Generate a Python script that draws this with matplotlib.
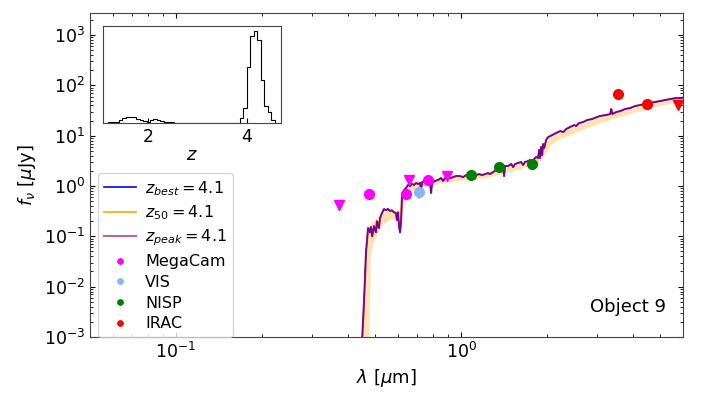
import numpy as np
import matplotlib
matplotlib.use("Agg")
import matplotlib.pyplot as plt
import matplotlib.lines as mlines
from matplotlib.ticker import NullFormatter

# SED model (best fit), wavelength in micron, flux in microJy
sed_wave = [0.440, 0.449, 0.457, 0.464, 0.472, 0.479, 0.483, 0.488, 0.495, 0.503, 0.507,
            0.515, 0.520, 0.528, 0.537, 0.545, 0.554, 0.563, 0.572, 0.582, 0.591, 0.596,
            0.601, 0.606, 0.611, 0.616, 0.621, 0.631, 0.641, 0.652, 0.662, 0.673, 0.684,
            0.695, 0.706, 0.718, 0.724, 0.730, 0.748, 0.766, 0.778, 0.785, 0.791, 0.810,
            0.830, 0.851, 0.865, 0.879, 0.900, 0.915, 0.937, 0.960, 0.992, 1.016, 1.041,
            1.075, 1.102, 1.129, 1.157, 1.185, 1.214, 1.244, 1.264, 1.295, 1.327, 1.348,
            1.370, 1.404, 1.415, 1.426, 1.462, 1.498, 1.522, 1.547, 1.585, 1.624, 1.650,
            1.676, 1.718, 1.746, 1.774, 1.803, 1.832, 1.862, 1.877, 1.892, 1.908, 1.924,
            1.939, 1.955, 1.987, 2.020, 2.087, 2.155, 2.226, 2.281, 2.336, 2.413, 2.493,
            2.533, 2.594, 2.680, 2.768, 2.883, 3.002, 3.075, 3.226, 3.334, 3.360, 3.390,
            3.500, 3.620, 3.760, 3.920, 4.080, 4.250, 4.430, 4.610, 4.800, 5.000, 5.210,
            5.430, 5.660, 5.890, 6.130]
sed_flux = [1e-5, 7e-4, 0.0054, 0.047, 0.146, 0.12, 0.153, 0.10, 0.16, 0.12, 0.20,
            0.146, 0.23, 0.29, 0.35, 0.33, 0.35, 0.32, 0.33, 0.30, 0.29, 0.21,
            0.30, 0.16, 0.12, 0.20, 0.69, 0.83, 0.91, 1.05, 1.0, 1.1, 1.05,
            1.15, 1.1, 1.15, 0.83, 1.2, 1.26, 1.32, 1.2, 0.73, 1.15, 1.26,
            1.32, 1.44, 1.26, 1.44, 1.5, 1.44, 1.5, 1.58, 1.58, 1.5, 1.65,
            1.58, 1.73, 1.65, 1.73, 1.65, 1.73, 1.81, 1.73, 1.90, 2.08, 2.28,
            2.39, 2.62, 1.58, 2.50, 2.50, 2.74, 2.39, 2.74, 2.87, 3.0, 2.62,
            3.0, 3.14, 3.29, 3.0, 3.44, 3.77, 3.60, 5.2, 3.6, 5.96, 4.13,
            6.84, 5.70, 8.2, 9.4, 10.3, 11.3, 12.4, 11.8, 13.6, 14.9, 16.3,
            15.6, 17.9, 18.7, 20.5, 21.5, 23.6, 24.7, 25.8, 27.0, 34.0, 27.0,
            29.6, 31.0, 34.0, 35.5, 39.0, 40.8, 42.8, 44.8, 47.0, 49.0, 51.4,
            53.8, 56.0, 56.0, 58.7]

# z_50 percentile band
band_wave = [0.445, 0.455, 0.465, 0.475, 0.480, 0.49, 0.51, 0.53, 0.56, 0.59, 0.605, 0.62,
             0.64, 0.67, 0.72, 0.8, 0.9, 1.0, 1.1, 1.25, 1.4, 1.6, 1.8, 1.88, 1.95, 2.05,
             2.2, 2.5, 2.8, 3.2, 3.6, 4.0, 4.5, 5.0, 5.5, 6.2]
band_high = [1e-4, 0.004, 0.08, 0.16, 0.18, 0.2, 0.24, 0.3, 0.33, 0.32, 0.33, 0.45,
             0.85, 1.05, 1.15, 1.3, 1.5, 1.6, 1.7, 1.8, 2.3, 2.7, 3.3, 3.8, 6.0, 9.0,
             11.5, 15.5, 19.5, 25, 30, 35, 42, 48, 53, 59]
band_low = [1e-5, 1e-5, 1e-4, 1e-3, 0.04, 0.07, 0.12, 0.17, 0.22, 0.22, 0.22, 0.25,
            0.55, 0.8, 0.95, 1.05, 1.2, 1.3, 1.4, 1.5, 1.8, 2.2, 2.7, 3.0, 4.0, 6.5,
            8.5, 11.5, 15, 19.5, 24, 28.5, 34, 40, 45, 50]

# photometry
mega_wave = [0.475, 0.641, 0.766]
mega_flux = [0.69, 0.69, 1.32]
mega_lim_wave = [0.373, 0.657, 0.893]
mega_lim_flux = [0.42, 1.32, 1.58]
vis_wave = [0.712]
vis_flux = [0.76]
vis_err = [[0.22], [0.05]]
nisp_wave = [1.084, 1.36, 1.77]
nisp_flux = [1.65, 2.4, 2.7]
irac_wave = [3.55, 4.49]
irac_flux = [67.5, 42.7]
irac_lim_wave = [5.76]
irac_lim_flux = [40.0]

# redshift PDF histogram
z_edges = [1.20, 1.27, 1.34, 1.41, 1.48, 1.55, 1.62, 1.69, 1.76, 1.83, 1.90, 1.97, 2.04,
           2.11, 2.18, 2.25, 2.32, 2.39, 2.46, 2.53, 2.60, 2.67, 2.74, 2.81, 2.88, 2.95,
           3.02, 3.09, 3.16, 3.23, 3.30, 3.37, 3.44, 3.51, 3.58, 3.65, 3.72, 3.79, 3.86,
           3.93, 4.00, 4.07, 4.14, 4.21, 4.28, 4.35, 4.42, 4.49, 4.56]
z_counts = [13, 13, 13, 39, 65, 85, 91, 78, 59, 39, 26, 13, 39,
            59, 46, 33, 20, 13, 13, 7, 0, 0, 0, 0, 0, 0,
            0, 0, 0, 0, 0, 0, 0, 0, 0, 0, 0, 0, 65,
            208, 793, 1235, 1300, 1170, 611, 234, 156, 39]

plt.rcParams['font.size'] = 12.5

fig = plt.figure(figsize=(7.03, 3.95), dpi=100)
ax = fig.add_axes([0.128, 0.147, 0.8436, 0.82])

ax.fill_between(band_wave, band_low, band_high, color='orange', alpha=0.32, lw=0)
ax.plot(sed_wave, sed_flux, color='orange', lw=1)
ax.plot(sed_wave, sed_flux, color='blue', lw=0.7)
ax.plot(sed_wave, sed_flux, color='purple', lw=1.5, alpha=0.85)

pm, = ax.plot(mega_wave, mega_flux, 'o', color='magenta', ms=7)
ax.plot(mega_lim_wave, mega_lim_flux, 'v', color='magenta', ms=7)
ax.errorbar(vis_wave, vis_flux, yerr=vis_err, fmt='none', ecolor='#8ab4f2', lw=1.2)
pv, = ax.plot(vis_wave, vis_flux, 'o', color='#8ab4f2', ms=7)
pn, = ax.plot(nisp_wave, nisp_flux, 'o', color='green', ms=7)
pi, = ax.plot(irac_wave, irac_flux, 'o', color='red', ms=7)
ax.plot(irac_lim_wave, irac_lim_flux, 'v', color='red', ms=7)

ax.set_xscale('log')
ax.set_yscale('log')
ax.set_xlim(0.05, 6.0)
ax.set_ylim(1e-3, 2750)
ax.xaxis.set_minor_formatter(NullFormatter())
ax.set_xlabel(r'$\lambda$ [$\mu$m]', fontsize=13)
ax.set_ylabel(r'$f_{\nu}$ [$\mu$Jy]', fontsize=13)
ax.tick_params(which='both', direction='in', top=True, right=True)
for s in ax.spines.values():
    s.set_color('#444444')

leg_best = mlines.Line2D([], [], color='blue', lw=1.2)
leg_50 = mlines.Line2D([], [], color='orange', lw=1.2)
leg_peak = mlines.Line2D([], [], color='purple', lw=1.5, alpha=0.6)
ax.legend([leg_best, leg_50, leg_peak, pm, pv, pn, pi],
          [r'$z_{best} = 4.1$', r'$z_{50} = 4.1$', r'$z_{peak} = 4.1$',
           'MegaCam', 'VIS', 'NISP', 'IRAC'],
          loc='lower left', bbox_to_anchor=(0.0135, 0.0), borderaxespad=0,
          markerscale=0.55, fontsize=11.5, handlelength=2.0, labelspacing=0.36,
          borderpad=0.35, handletextpad=0.6)

ax.text(0.972, 0.065, 'Object 9', transform=ax.transAxes, ha='right', va='bottom', fontsize=13)

# inset with redshift distribution
axin = fig.add_axes([0.1465, 0.6886, 0.2532, 0.2456])
axin.stairs(z_counts, z_edges, color='black', lw=0.8)
axin.set_xlim(1.09, 4.69)
axin.set_ylim(0, 1372)
axin.set_yticks([])
axin.set_xticks([2, 4])
axin.tick_params(direction='in')
axin.set_xlabel(r'$z$', fontsize=13, labelpad=0)
for s in axin.spines.values():
    s.set_color('#444444')

fig.savefig('out.png', dpi=100)
